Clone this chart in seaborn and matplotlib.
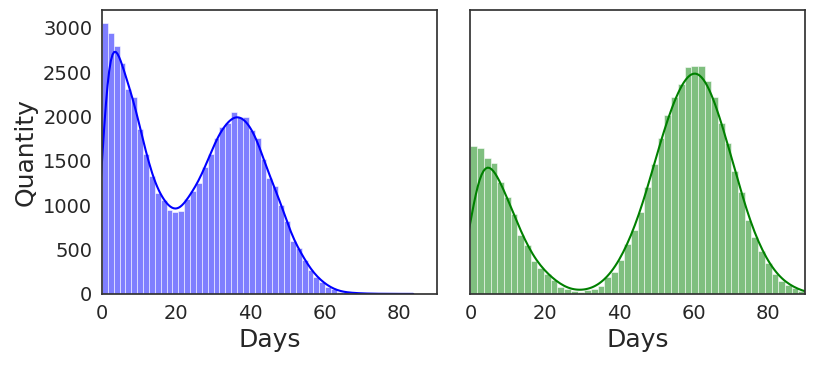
import numpy as np
import matplotlib.pyplot as plt
import seaborn as sns

# bin counts (50 bins per panel)
left_counts = [3050, 2937, 2798, 2598, 2308, 2221, 1855, 1572, 1335, 1139,
               1063, 950, 924, 939, 1075, 1165, 1252, 1429, 1580, 1761,
               1885, 1930, 2050, 1995, 1990, 1850, 1760, 1516, 1308, 1214,
               1000, 818, 592, 517, 385, 271, 196, 139, 83, 53,
               26, 18, 12, 8, 5, 3, 2, 1, 1, 1]
right_counts = [1667, 1644, 1531, 1478, 1262, 1090, 900, 667, 550, 366,
                290, 230, 162, 83, 50, 36, 26, 45, 60, 90,
                196, 250, 380, 562, 716, 920, 1200, 1465, 1761, 2015,
                2221, 2372, 2560, 2575, 2570, 2395, 2221, 1930, 1704, 1391,
                1146, 837, 637, 486, 347, 223, 147, 102, 64, 34]
left_max_day = 79
right_max_day = 90
x_ticks = [0, 20, 40, 60, 80]

left_edges = np.linspace(0, left_max_day, len(left_counts) + 1)
right_edges = np.linspace(0, right_max_day, len(right_counts) + 1)
left_days = np.repeat((left_edges[:-1] + left_edges[1:]) / 2, left_counts)
right_days = np.repeat((right_edges[:-1] + right_edges[1:]) / 2, right_counts)

sns.set_style("white")
fig, axes = plt.subplots(1, 2, figsize=(8.16, 3.66), dpi=100, sharey=True)
fig.subplots_adjust(left=0.125, right=0.9865, bottom=0.197, top=0.973, wspace=0.1015)

sns.histplot(x=left_days, bins=left_edges, kde=True, kde_kws={"cut": 3},
             color="blue", ax=axes[0])
sns.histplot(x=right_days, bins=right_edges, kde=True, kde_kws={"cut": 3},
             color="green", ax=axes[1])

for ax in axes:
    ax.set_xlim(0, 90)
    ax.set_xticks(x_ticks)
    ax.set_xlabel("Days", fontsize=18)
    ax.tick_params(labelsize=14)
    for s in ax.spines.values():
        s.set_color("#333333")
        s.set_linewidth(1.25)
axes[0].set_ylabel("Quantity", fontsize=18)
axes[1].set_ylabel("")

plt.savefig("out.png", dpi=100)
